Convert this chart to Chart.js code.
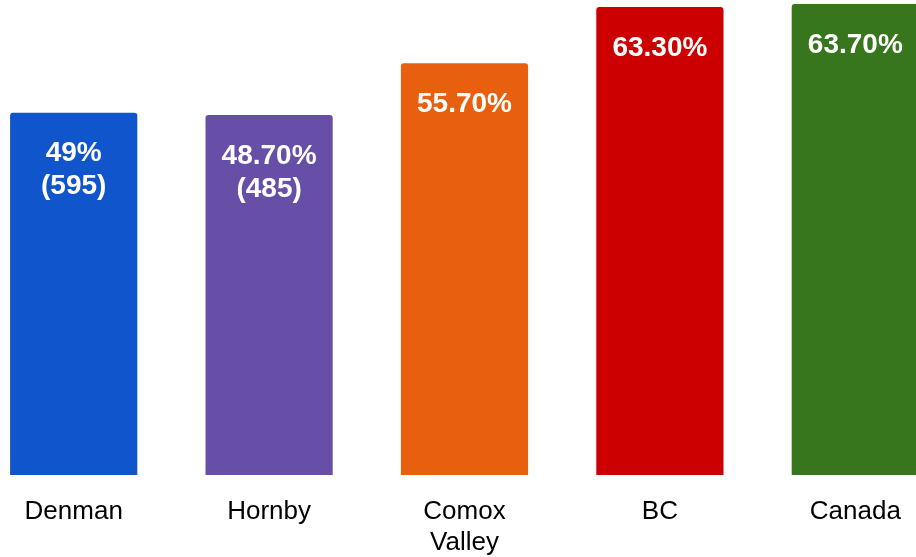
<!DOCTYPE html>
<html>
<head>
<meta charset="utf-8">
<script src="https://cdn.jsdelivr.net/npm/chart.js@4/dist/chart.umd.min.js"></script>
<style>
html,body{margin:0;padding:0;background:#fff;overflow:hidden;width:916px;height:557px;}
#wrap{position:absolute;left:-24px;top:0;width:977px;height:557px;}
</style>
</head>
<body>
<div id="wrap"><canvas id="c"></canvas></div>
<script>
const categories = [["Denman"], ["Hornby"], ["Comox", "Valley"], ["BC"], ["Canada"]];
const percentValues = [49, 48.7, 55.7, 63.3, 63.7];
const percentLabels = ["49%", "48.70%", "55.70%", "63.30%", "63.70%"];
const countLabels = ["(595)", "(485)", "", "", ""];
const barColors = ["#1155cc", "#674ea7", "#e8600f", "#cc0000", "#38761d"];

const valueLabelPlugin = {
  id: 'valueLabels',
  afterDatasetsDraw(chart) {
    const ctx = chart.ctx;
    const meta = chart.getDatasetMeta(0);
    ctx.save();
    ctx.fillStyle = '#ffffff';
    ctx.font = 'bold 28px "Liberation Sans", Arial, sans-serif';
    ctx.textAlign = 'center';
    ctx.textBaseline = 'middle';
    meta.data.forEach((bar, i) => {
      const lines = [percentLabels[i]];
      if (countLabels[i]) lines.push(countLabels[i]);
      lines.forEach((t, j) => {
        ctx.fillText(t, bar.x, bar.y + 41 + j * 33);
      });
    });
    ctx.restore();
  }
};

new Chart(document.getElementById('c'), {
  type: 'bar',
  data: {
    labels: categories,
    datasets: [{
      data: percentValues,
      backgroundColor: barColors,
      borderRadius: {topLeft: 3, topRight: 3, bottomLeft: 0, bottomRight: 0},
      borderSkipped: false,
      barPercentage: 0.651,
      categoryPercentage: 1.0
    }]
  },
  options: {
    responsive: true,
    maintainAspectRatio: false,
    animation: false,
    layout: {padding: 0},
    plugins: {legend: {display: false}, tooltip: {enabled: false}},
    scales: {
      x: {
        grid: {display: false},
        border: {display: false},
        afterFit(scale) { scale.height = 82; },
        ticks: {
          color: '#000000',
          font: {family: '"Liberation Sans", Arial, sans-serif', size: 26, lineHeight: 1.2},
          autoSkip: false,
          maxRotation: 0,
          padding: 13
        }
      },
      y: {
        display: false,
        min: 0,
        max: 64.25
      }
    }
  },
  plugins: [valueLabelPlugin]
});
</script>
</body>
</html>
